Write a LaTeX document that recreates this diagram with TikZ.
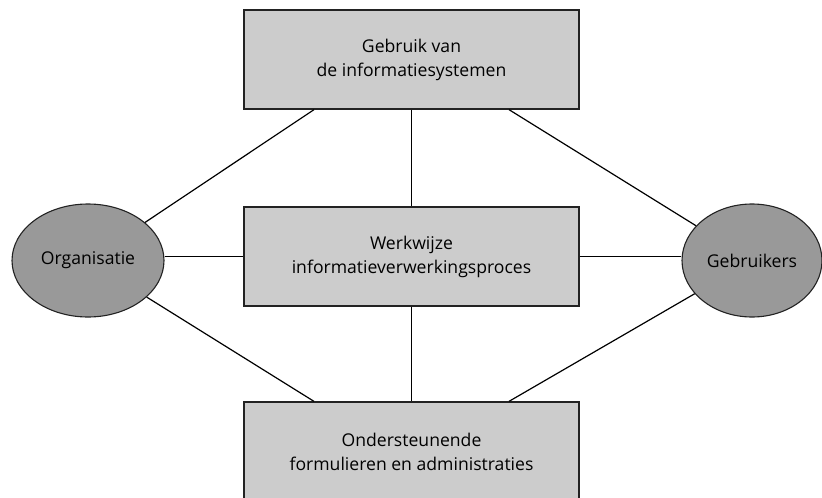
\documentclass[tikz,border=0pt]{standalone}
\usepackage{fontspec}
\setmainfont{Open Sans}
\usetikzlibrary{shapes.geometric,calc}
\definecolor{boxfill}{HTML}{CCCCCC}
\definecolor{ovalfill}{HTML}{999999}
\definecolor{edge}{HTML}{222222}
\tikzset{
  panel/.style={draw=edge, line width=1.3pt, fill=boxfill, inner sep=0pt,
    minimum width=335pt, minimum height=99pt, align=center,
    font=\fontsize{17.6}{24}\selectfont},
  actor/.style={ellipse, draw=edge, line width=1.1pt, fill=ovalfill, inner sep=0pt,
    font=\fontsize{17.6}{24}\selectfont},
  link/.style={draw=black, line width=1.2pt}
}
\begin{document}
\begin{tikzpicture}[x=1pt,y=-1pt]
\useasboundingbox (0,0) rectangle (822,498);
% the three central panels
\node[panel] (use) at (411.5,59.5) {Gebruik van\\de informatiesystemen};
\node[panel] (work) at (411.5,256.5) {Werkwijze\\informatieverwerkingsproces};
\node[panel] (forms) at (411.5,451.5) {Ondersteunende\\formulieren en administraties};
% the two parties on either side
\node[actor, minimum width=152pt, minimum height=113pt] (org) at (88,260.5) {Organisatie};
\node[actor, minimum width=140pt, minimum height=113pt] (users) at (752,260.5) {Gebruikers};
% attachment points on the panel edges
\coordinate (useL) at ($(use.south west)!0.21!(use.south east)$);
\coordinate (useR) at ($(use.south west)!0.79!(use.south east)$);
\coordinate (formsL) at ($(forms.north west)!0.21!(forms.north east)$);
\coordinate (formsR) at ($(forms.north west)!0.79!(forms.north east)$);
\coordinate (orgE) at (work.west -| org.east);
\coordinate (usersW) at (work.east -| users.west);
% connectors
\draw[link] (useL) -- (org);
\draw[link] (useR) -- (users);
\draw[link] (formsL) -- (org);
\draw[link] (formsR) -- (users);
\draw[link] (use) -- (work);
\draw[link] (work) -- (forms);
\draw[link] (orgE) -- (work.west);
\draw[link] (work.east) -- (usersW);
\end{tikzpicture}
\end{document}
